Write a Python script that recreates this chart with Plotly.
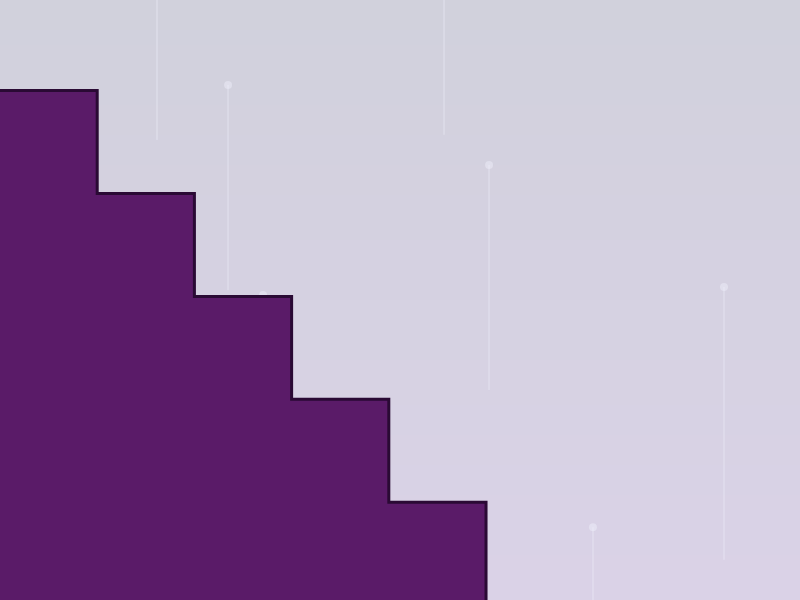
import plotly.graph_objects as go

# Step series (staircase)
step_x = [0, 1, 2, 3, 4, 5]
step_y = [5, 4, 3, 2, 1, 0]

# Faint background lollipops (x, top of stem / dot, bottom of stem)
pop_x = [1.615, 4.568, 2.346, 2.706, 5.031, 7.448, 6.10]
pop_top = [6.20, 6.25, 5.054, 3.013, 4.277, 3.091, 0.758]
pop_bottom = [4.52, 4.57, 3.06, 1.00, 2.09, 0.44, -0.2]

fig = go.Figure()

# stems
sx, sy = [], []
for x, t, b in zip(pop_x, pop_top, pop_bottom):
    sx += [x, x, None]
    sy += [t, b, None]
fig.add_trace(go.Scatter(x=sx, y=sy, mode="lines",
                         line=dict(color="rgba(236,236,248,0.32)", width=2),
                         hoverinfo="skip", showlegend=False))
fig.add_trace(go.Scatter(x=pop_x, y=pop_top, mode="markers",
                         marker=dict(color="rgba(238,238,250,0.5)", size=8, line=dict(width=0)),
                         hoverinfo="skip", showlegend=False))

fig.add_trace(go.Scatter(x=step_x, y=step_y, mode="lines", line_shape="hv",
                         fill="tozeroy", fillcolor="#5a1b68",
                         line=dict(color="#2a0a34", width=3),
                         hoverinfo="skip", showlegend=False))

# background vertical gradient bands
top = (209, 209, 220)
bot = (218, 210, 231)
n = 40
shapes = []
for i in range(n):
    f = i / (n - 1)
    c = tuple(round(top[k] + (bot[k] - top[k]) * f) for k in range(3))
    shapes.append(dict(type="rect", xref="paper", yref="paper",
                       x0=0, x1=1, y0=1 - (i + 1) / n, y1=1 - i / n,
                       fillcolor="rgb(%d,%d,%d)" % c, line=dict(width=0),
                       layer="below"))

fig.update_layout(
    width=800, height=600,
    margin=dict(l=0, r=0, t=0, b=0),
    paper_bgcolor="rgb(213,210,225)",
    plot_bgcolor="rgba(0,0,0,0)",
    shapes=shapes,
    xaxis=dict(range=[0, 8.23], visible=False, showgrid=False, zeroline=False),
    yaxis=dict(range=[0.05, 5.88], visible=False, showgrid=False, zeroline=False),
    hovermode=False,
)

fig.write_html("out.html", config={"displayModeBar": False},
               post_script="document.body.style.margin='0';document.body.style.overflow='hidden';")
